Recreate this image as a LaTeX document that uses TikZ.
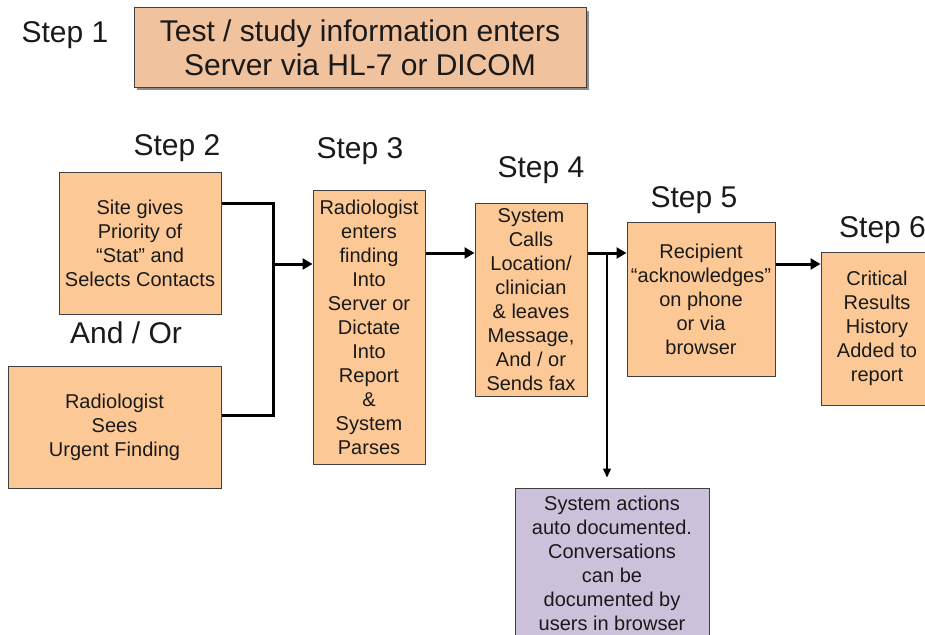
\documentclass[tikz,border=0pt]{standalone}
\usepackage{fontspec}
\setmainfont{Liberation Sans}
\usetikzlibrary{arrows.meta,shadows}
\definecolor{peach}{HTML}{FCC996}
\definecolor{peachdark}{HTML}{F0C29E}
\definecolor{lilac}{HTML}{CCC1DA}
\definecolor{edge}{HTML}{404040}
\definecolor{ink}{HTML}{1A1A1A}
\tikzset{
  box/.style={draw=edge, line width=1pt, fill=peach, rectangle, inner sep=0pt, align=center,
    text=ink, font=\fontsize{20}{24}\selectfont},
  bigbox/.style={box, fill=peachdark, font=\fontsize{30}{34}\selectfont,
    drop shadow={shadow xshift=3pt, shadow yshift=-3pt, opacity=0.45, fill=black}},
  doc/.style={box, fill=lilac},
  steplabel/.style={anchor=base, text=ink, font=\fontsize{30}{34}\selectfont, inner sep=0pt},
  flow/.style={line width=3pt, -{Triangle[length=10pt,width=11pt]}},
  link/.style={line width=3pt},
  thin/.style={line width=1.2pt, -{Triangle[length=9pt,width=8pt]}}
}
\begin{document}
\begin{tikzpicture}[x=1pt,y=-1pt]
\clip (0,0) rectangle (925,634);
\fill[white] (0,0) rectangle (925,634);

% labels
\node[steplabel] (l1) at (65,42) {Step 1};
\node[steplabel] (l2) at (177,155) {Step 2};
\node[steplabel] (l3) at (360,158) {Step 3};
\node[steplabel] (l4) at (541,177) {Step 4};
\node[steplabel] (l5) at (694,207) {Step 5};
\node[steplabel, anchor=base west] (l6) at (839,237) {Step 6};
\node[steplabel] (andor) at (126,343) {And / Or};

% boxes
\node[bigbox, minimum width=452pt, minimum height=79pt] (s1) at (360,47.5)
  {Test / study information enters\\Server via HL-7 or DICOM};
\node[box, minimum width=162pt, minimum height=142pt] (s2a) at (140,243)
  {Site gives\\Priority of\\“Stat” and\\Selects Contacts};
\node[box, minimum width=213pt, minimum height=122pt] (s2b) at (114.5,427)
  {Radiologist\\Sees\\Urgent Finding};
\node[box, minimum width=112pt, minimum height=274pt] (s3) at (369,327)
  {Radiologist\\enters\\finding\\Into\\Server or\\Dictate\\Into\\Report\\\&\\System\\Parses};
\node[box, minimum width=112pt, minimum height=193pt] (s4) at (531,299.5)
  {System\\Calls\\Location/\\clinician\\\& leaves\\Message,\\And / or\\Sends fax};
\node[box, minimum width=148pt, minimum height=154pt] (s5) at (701,299)
  {Recipient\\“acknowledges”\\on phone\\or via\\browser};
\node[box, minimum width=112pt, minimum height=153pt] (s6) at (877,328.5)
  {Critical\\Results\\History\\Added to\\report};
\node[doc, minimum width=194pt, minimum height=150pt] (d) at (612,563)
  {System actions\\auto documented.\\Conversations\\can be\\documented by\\users in browser};

% connectors
\coordinate (jt) at (273,203);
\coordinate (jb) at (273,415);
\coordinate (jm) at (273,264);
\coordinate (br) at (607,253);
\draw[link] ([yshift=40pt]s2a.east) -- (jt) -- (jb) -- ([yshift=12pt]s2b.east);
\draw[flow] (jm) -- (s3.west |- jm);
\draw[flow] ([yshift=74pt]s3.east) -- ([yshift=46.5pt]s4.west);
\draw[flow] ([yshift=46.5pt]s4.east) -- ([yshift=46pt]s5.west);
\draw[thin] (br) -- ([yshift=10pt]d.north -| br);
\draw[flow] ([yshift=35pt]s5.east) -- (s6.west |- 0,264);
\end{tikzpicture}
\end{document}
